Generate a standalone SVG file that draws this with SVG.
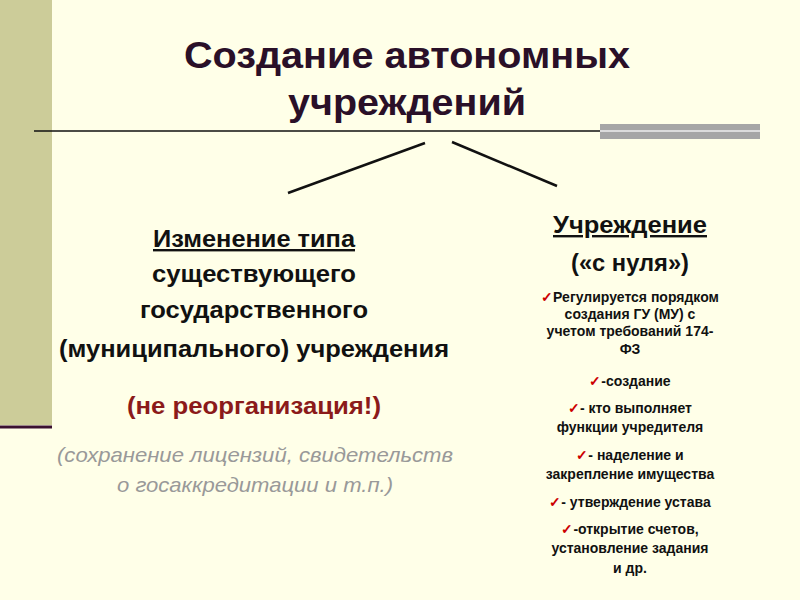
<svg xmlns="http://www.w3.org/2000/svg" width="800" height="600" viewBox="0 0 800 600">
<style>
text{font-family:"Liberation Sans",Arial,sans-serif;text-anchor:middle}
.t{font-size:37px;font-weight:bold;fill:#2a1028}
.h{font-size:24px;font-weight:bold;fill:#111}
.r{font-size:23px;font-weight:bold;fill:#8b1a1a}
.g{font-size:21px;font-style:italic;fill:#999}
.s{font-size:14px;font-weight:bold;fill:#111}
.c{fill:#c00}
.ln{stroke:#111;stroke-width:2.5;fill:none}
</style>
<rect width="800" height="600" fill="#ffffe8"/>
<rect x="0" y="0" width="52" height="425" fill="#cccc99"/>
<line x1="0" y1="427" x2="52" y2="427" stroke="#3a1030" stroke-width="3"/>
<g id="title">
<text class="t" x="407" y="68" textLength="446" lengthAdjust="spacingAndGlyphs">Создание автономных</text>
<text class="t" x="407" y="115" textLength="238" lengthAdjust="spacingAndGlyphs">учреждений</text>
<line x1="34" y1="131" x2="600" y2="131" stroke="#111" stroke-width="1.5"/>
<rect x="600" y="124" width="160" height="15" fill="#a6a6a6"/>
<line x1="600" y1="131" x2="760" y2="131" stroke="#eee" stroke-width="1.5"/>
</g>
<g id="connectors">
<line class="ln" x1="425" y1="143" x2="288" y2="193"/>
<line class="ln" x1="452" y1="142" x2="557" y2="186"/>
</g>
<g id="left">
<text class="h" x="254" y="247" textLength="202" lengthAdjust="spacingAndGlyphs" text-decoration="underline">Изменение типа</text>
<text class="h" x="254" y="282" textLength="204" lengthAdjust="spacingAndGlyphs">существующего</text>
<text class="h" x="254" y="318" textLength="228" lengthAdjust="spacingAndGlyphs">государственного</text>
<text class="h" x="254" y="357" textLength="390" lengthAdjust="spacingAndGlyphs">(муниципального) учреждения</text>
<text class="r" x="254" y="414" textLength="254" lengthAdjust="spacingAndGlyphs">(не реорганизация!)</text>
<text class="g" x="255" y="462" textLength="396" lengthAdjust="spacingAndGlyphs">(сохранение лицензий, свидетельств</text>
<text class="g" x="255" y="492" textLength="276" lengthAdjust="spacingAndGlyphs">о госаккредитации и т.п.)</text>
</g>
<g id="right">
<text class="h" x="630" y="233" textLength="154" lengthAdjust="spacingAndGlyphs" text-decoration="underline">Учреждение</text>
<text class="h" x="630" y="271" textLength="118" lengthAdjust="spacingAndGlyphs">(«с нуля»)</text>
<text class="s" x="630" y="302"><tspan class="c">✓</tspan>Регулируется порядком</text>
<text class="s" x="630" y="319">создания ГУ (МУ) с</text>
<text class="s" x="630" y="336">учетом требований 174-</text>
<text class="s" x="630" y="354">ФЗ</text>
<text class="s" x="630" y="386"><tspan class="c">✓</tspan>-создание</text>
<text class="s" x="630" y="413"><tspan class="c">✓</tspan>- кто выполняет</text>
<text class="s" x="630" y="432">функции учредителя</text>
<text class="s" x="630" y="460"><tspan class="c">✓</tspan>-  наделение и</text>
<text class="s" x="630" y="479">закрепление имущества</text>
<text class="s" x="630" y="507"><tspan class="c">✓</tspan>- утверждение устава</text>
<text class="s" x="630" y="534"><tspan class="c">✓</tspan>-открытие счетов,</text>
<text class="s" x="630" y="553">установление задания</text>
<text class="s" x="630" y="573">и др.</text>
</g>
</svg>
